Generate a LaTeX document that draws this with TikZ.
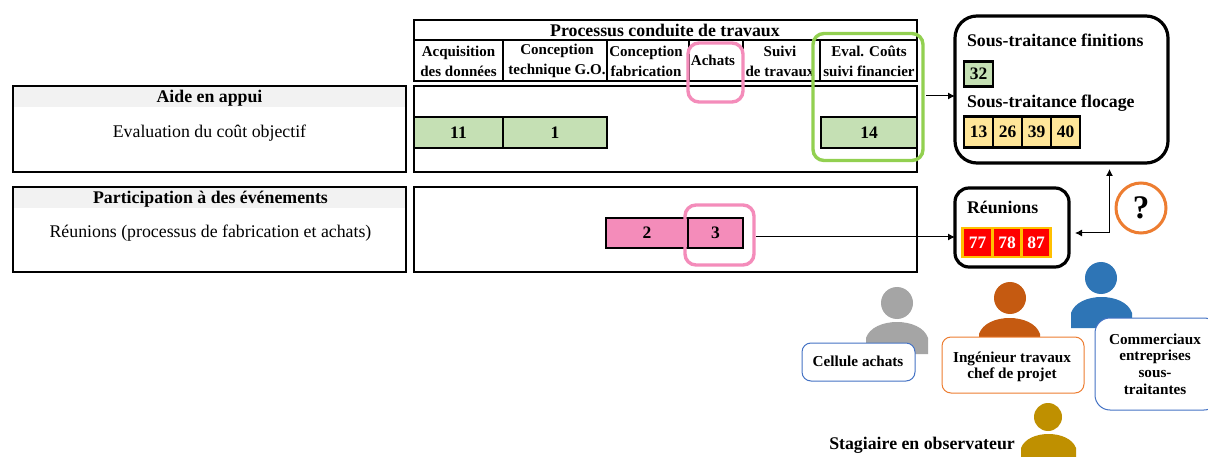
\documentclass[tikz,border=0pt]{standalone}
\usepackage{fontspec}
\setmainfont{Liberation Serif}
\usetikzlibrary{arrows.meta,calc}
\definecolor{cgreen}{HTML}{C5E0B4}
\definecolor{cpink}{HTML}{F48CBA}
\definecolor{cyellow}{HTML}{FFE699}
\definecolor{cgrey}{HTML}{F2F2F2}
\definecolor{lgreen}{HTML}{92D050}
\definecolor{corange}{HTML}{ED7D31}
\definecolor{cblue}{HTML}{4472C4}
\definecolor{pgrey}{HTML}{A5A5A5}
\definecolor{porange}{HTML}{C55A11}
\definecolor{pblue}{HTML}{2E75B6}
\definecolor{pgold}{HTML}{BF9000}
\definecolor{cstrip}{HTML}{FFC000}
\newcommand{\fs}[2]{\fontsize{#1}{#2}\selectfont}
\tikzset{
  x=1pt,y=-1pt,
  rect/.style={draw=black,line width=2.3pt,inner sep=0pt,outer sep=0pt,align=center},
  cell/.style={rect,font=\bfseries\fs{17.5}{18}},
  head/.style={inner sep=0pt,outer sep=0pt,align=center,font=\bfseries\fs{15}{20}},
  ttl/.style={inner sep=0pt,outer sep=0pt,font=\bfseries\fs{17.8}{18}},
  plain/.style={inner sep=0pt,outer sep=0pt,font=\fs{17.8}{18}},
  rbox/.style={draw=black,line width=3.2pt,rounded corners=#1,inner sep=0pt,outer sep=0pt},
  hl/.style={draw=#1,line width=3.4pt,rounded corners=11pt,fill=none,inner sep=0pt,outer sep=0pt},
  lab/.style={fill=white,line width=1pt,rounded corners=#1,inner sep=0pt,outer sep=0pt,align=center,font=\bfseries\fs{15.2}{16.5}},
  redcell/.style={fill=red,text=white,font=\bfseries\fs{17.5}{18},minimum width=26.5pt,minimum height=27pt,inner sep=0pt},
  arr/.style={draw=black,line width=1pt,-{Latex[length=7pt,width=7pt]}},
}
\newcommand{\body}[6]{% colour, xleft, xright, ytop, yshoulder, ybottom
  \fill[#1] (#2,#6) -- (#2,#5) .. controls ({#2+7},{#4-(#5-#4)/3}) and ({#3-7},{#4-(#5-#4)/3}) .. (#3,#5) -- (#3,#6) -- cycle;
}
\begin{document}
\begin{tikzpicture}
\useasboundingbox (0,0) rectangle (1208,457);
\fill[white] (0,0) rectangle (1208,457);
% left panels
\fill[cgrey] (13,87) rectangle (406,107);
\fill[cgrey] (13,188) rectangle (406,208);
\node[rect,minimum width=393pt,minimum height=86pt] (aide) at (209.5,129) {};
\node[rect,minimum width=393pt,minimum height=85pt] (part) at (209.5,229.5) {};
\node[ttl] (aidet) at (209.5,98) {Aide en appui};
\node[plain] (aidep) at (209.5,133) {Evaluation du coût objectif};
\node[ttl] (partt) at (210.5,199.5) {Participation à des événements};
\node[plain] (partp) at (210.5,233.5) {Réunions (processus de fabrication et achats)};
% process header
\node[rect,minimum width=503pt,minimum height=61pt] (proc) at (665.5,50.5) {};
\draw[black,line width=2.3pt] (414,40) -- (917,40);
\node[ttl] (proct) at (665,30.5) {Processus conduite de travaux};
\draw[black,line width=2.3pt] (503,40) -- (503,81) (607,40) -- (607,81) (689,40) -- (689,81) (743,40) -- (743,81) (820,40) -- (820,81);
\node[head] (c1) at (458.5,61) {Acquisition\\des données};
\node[head] (c2) at (557,61) {Conception\\technique G.O.};
\node[head] (c3) at (646,61) {Conception\\fabrication};
\node[head] (c4) at (713,60) {Achats};
\node[head] (c5) at (780,61) {Suivi\\de travaux};
\node[head] (c6) at (869,61) {Eval. Coûts\\suivi financier};
% timeline rows
\node[rect,minimum width=503pt,minimum height=86pt] (row1) at (665.5,129) {};
\node[rect,minimum width=503pt,minimum height=85pt] (row2) at (665.5,229.5) {};
\node[cell,fill=cgreen,minimum width=89pt,minimum height=31pt] (n11) at (458.5,132.5) {11};
\node[cell,fill=cgreen,minimum width=104pt,minimum height=31pt] (n1) at (555,132.5) {1};
\node[cell,fill=cgreen,minimum width=96.5pt,minimum height=31pt] (n14) at (869,132.5) {14};
\node[cell,fill=cpink,minimum width=82pt,minimum height=30pt] (n2) at (647,233) {2};
\node[cell,fill=cpink,minimum width=55pt,minimum height=30pt] (n3) at (715.5,233) {3};
% highlights
\node[hl=cpink,minimum width=55pt,minimum height=59pt] (hpa) at (715.5,72.5) {};
\node[hl=lgreen,minimum width=110pt,minimum height=127pt] (hgr) at (868,97) {};
\node[hl=cpink,minimum width=69pt,minimum height=60pt] (hpb) at (719.5,235) {};
% big box
\node[rbox=22pt,fill=white,minimum width=213pt,minimum height=147pt] (big) at (1061.5,89.5) {};
\node[ttl,anchor=west] (sf) at (967,40.5) {Sous-traitance finitions};
\node[cell,fill=cgreen,minimum width=29pt,minimum height=25pt] (n32) at (978.5,74) {32};
\node[ttl,anchor=west] (sl) at (967,103) {Sous-traitance flocage};
\node[cell,fill=cyellow,minimum width=29pt,minimum height=31pt] (n13) at (978.5,132) {13};
\node[cell,fill=cyellow,minimum width=29pt,minimum height=31pt] (n26) at (1007.5,132) {26};
\node[cell,fill=cyellow,minimum width=29pt,minimum height=31pt] (n39) at (1036.5,132) {39};
\node[cell,fill=cyellow,minimum width=29pt,minimum height=31pt] (n40) at (1065.5,132) {40};
% reunions
\node[rbox=14pt,fill=white,minimum width=114pt,minimum height=79pt] (reu) at (1012,227.5) {};
\node[ttl,anchor=west] (rt) at (967,207.5) {Réunions};
\node[draw=cstrip,line width=3pt,fill=cstrip,minimum width=88pt,minimum height=28pt,inner sep=0pt] (strip) at (1006.5,242.5) {};
\node[redcell] (n77) at (977.7,242.5) {77};
\node[redcell] (n78) at (1007,242.5) {78};
\node[redcell] (n87) at (1036,242.5) {87};
% question
\node[circle,draw=corange,line width=3pt,fill=white,minimum size=50pt,inner sep=0pt,font=\bfseries\fs{33}{33}] (q) at (1141,208) {?};
% connectors
\coordinate (a) at (926,96);
\draw[arr] (a) -- (a -| big.west);
\coordinate (b) at (756,237);
\draw[arr] (b) -- (b -| reu.west);
\coordinate (j) at (1109.5,233);
\draw[arr,shorten >=6pt] (j) -- (j -| reu.east);
\draw[arr,shorten >=6pt] (j) -- (j |- big.south);
% people
\fill[pgrey] (897,303) circle[radius=16];
\body{pgrey}{866}{928}{322}{338}{354}
\fill[porange] (1010,298) circle[radius=16];
\body{porange}{979}{1040}{318}{334}{345}
\fill[pblue] (1101,278) circle[radius=16];
\body{pblue}{1071}{1132}{297}{313}{328}
\fill[pgold] (1048,417) circle[radius=14];
\body{pgold}{1021}{1076}{434}{448}{457}
% labels
\node[lab=9pt,draw=cblue,minimum width=113pt,minimum height=38pt] (lca) at (858.5,362) {};
\node[inner sep=0pt,font=\bfseries\fs{15.2}{16.5}] (lcat) at (858,361) {Cellule achats};
\node[lab=9pt,draw=corange,minimum width=142pt,minimum height=56pt] (lin) at (1013,365) {};
\node[inner sep=0pt,align=center,font=\bfseries\fs{15.2}{16.5}] (lint) at (1012,367) {Ingénieur travaux\\chef de projet};
\node[lab=15pt,draw=cblue,minimum width=124pt,minimum height=92pt] (lco) at (1157,364) {};
\node[inner sep=0pt,align=center,font=\bfseries\fs{15.2}{16.8}] (lcot) at (1155,364) {Commerciaux\\entreprises\\sous-\\traitantes};
\node[anchor=east,inner sep=0pt,font=\bfseries\fs{17.8}{18}] (sta) at (1015,445.5) {Stagiaire en observateur};
\end{tikzpicture}
\end{document}
